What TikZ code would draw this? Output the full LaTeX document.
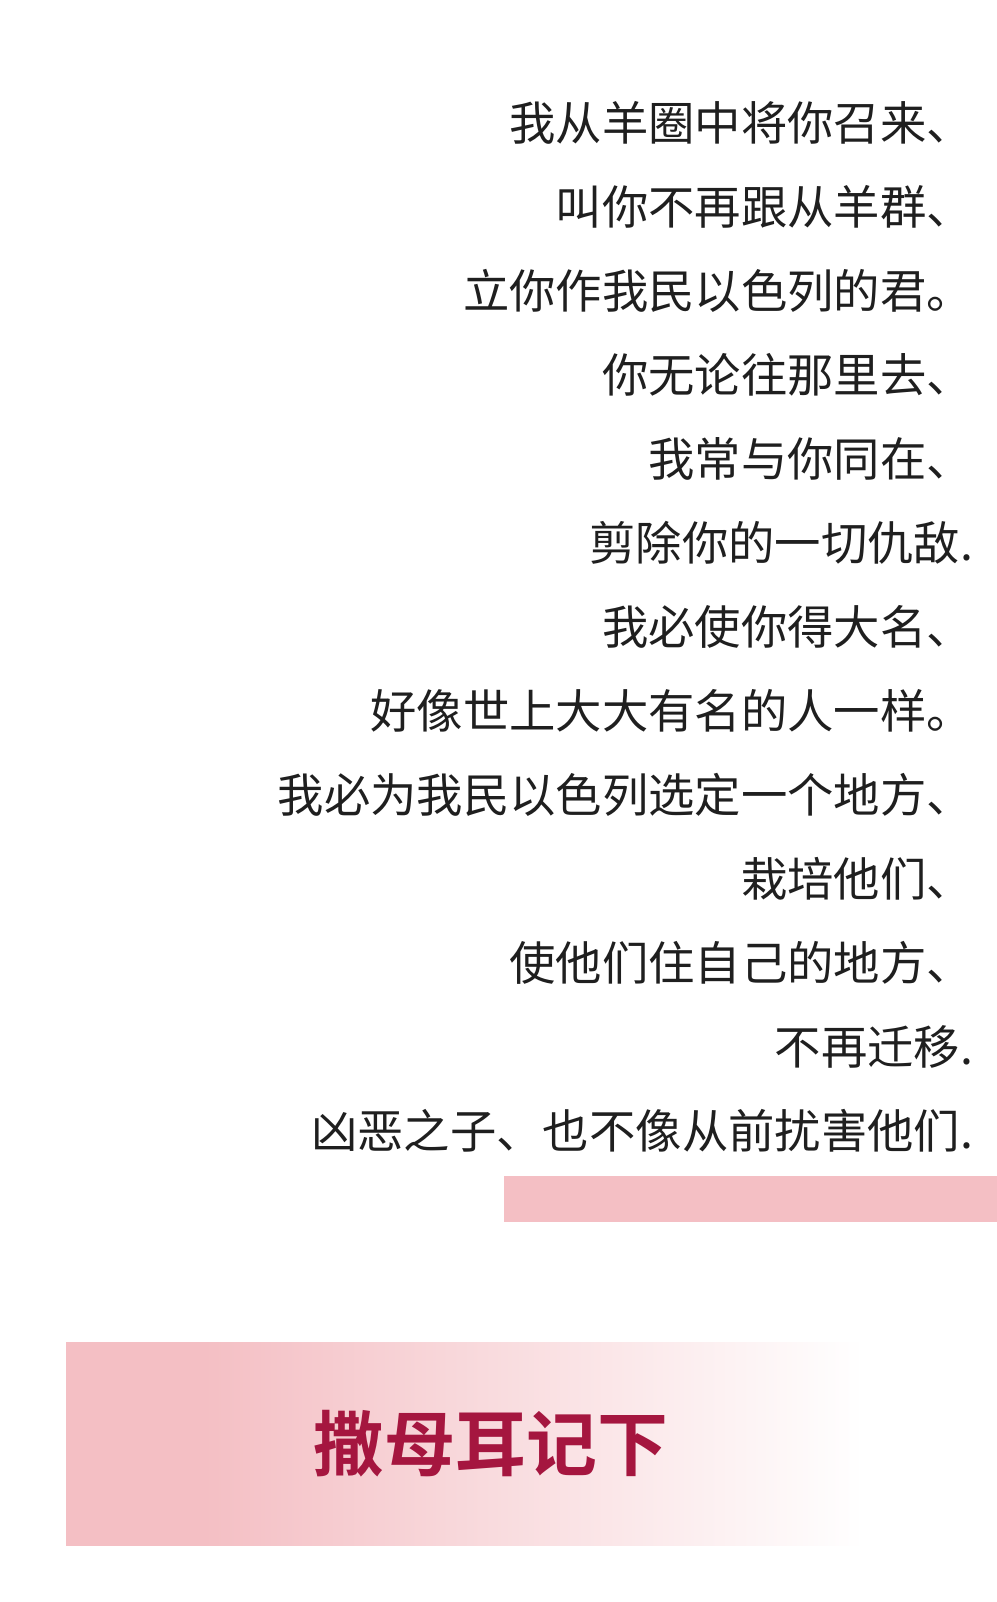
\documentclass[tikz,border=0pt]{standalone}
\usepackage{fontspec}
\newfontfamily\cjk{Noto Sans CJK SC}
\newfontfamily\cjkb{Noto Sans CJK SC Bold}
\definecolor{pinkbar}{HTML}{F4BFC4}
\definecolor{titlered}{HTML}{A5163F}
\begin{document}
\begin{tikzpicture}[x=0.75pt,y=-0.75pt,
  line/.style={anchor=east,font=\cjk\fontsize{34}{40}\selectfont,inner sep=0pt,text=black!88}]
\useasboundingbox[fill=white] (0,0) rectangle (975,1567);
\foreach \t [count=\i] in {我从羊圈中将你召来、,叫你不再跟从羊群、,立你作我民以色列的君。,你无论往那里去、,我常与你同在、,剪除你的一切仇敌.,我必使你得大名、,好像世上大大有名的人一样。,我必为我民以色列选定一个地方、,栽培他们、,使他们住自己的地方、,不再迁移.,凶恶之子、也不像从前扰害他们.}
  \node[line] (l\i) at (952,{120+82.2*(\i-1)}) {\t};
\fill[pinkbar] (493,1150) rectangle (975,1195);
\fill[pinkbar] (65,1313) rectangle (200,1512);
\shade[left color=pinkbar,right color=white,shading angle=90] (199,1313) rectangle (845,1512);
\node[font=\cjkb\fontsize{52}{60}\selectfont,text=titlered] (title) at (480,1412) {撒母耳记下};
\end{tikzpicture}
\end{document}
